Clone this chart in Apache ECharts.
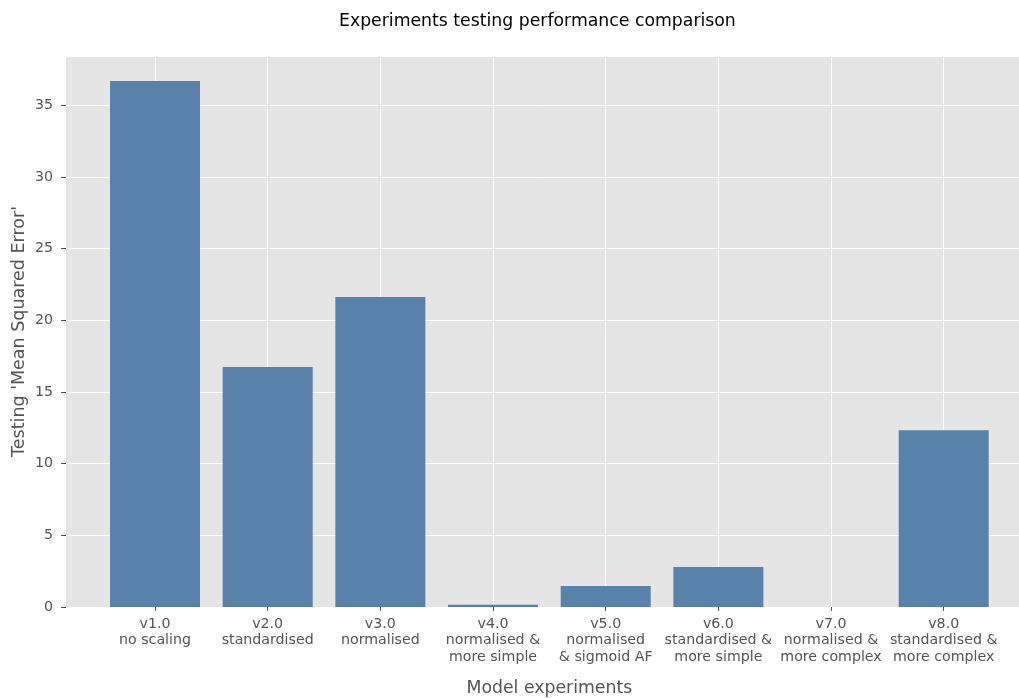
<!DOCTYPE html>
<html>
<head>
<meta charset="utf-8">
<title>Experiments testing performance comparison</title>
<script src="https://cdn.jsdelivr.net/npm/echarts@6/dist/echarts.min.js"></script>
<style>
  html, body { margin: 0; padding: 0; background: #fff; }
  #chart { width: 1019px; height: 698px; }
</style>
</head>
<body>
<div id="chart"></div>
<script>
// data
const experiments = [
  "v1.0\nno scaling",
  "v2.0\nstandardised",
  "v3.0\nnormalised",
  "v4.0\nnormalised &\nmore simple",
  "v5.0\nnormalised\n& sigmoid AF",
  "v6.0\nstandardised &\nmore simple",
  "v7.0\nnormalised &\nmore complex",
  "v8.0\nstandardised &\nmore complex"
];
const testMse = [36.7, 16.75, 21.62, 0.16, 1.46, 2.79, 0.005, 12.33];
const yTicks = { min: 0, max: 38.44, step: 5 };

const font = "DejaVu Sans";
const grey = "#555555";

const chart = echarts.init(document.getElementById("chart"));
chart.setOption({
  animation: false,
  textStyle: { fontFamily: font },
  title: {
    text: "Experiments testing performance comparison",
    left: 334,
    top: 8,
    textStyle: { fontFamily: font, fontSize: 17.3, fontWeight: "normal", color: "#000" }
  },
  grid: [
    // grey panel, spans the whole (cropped) axes area
    { left: 66, right: 0, top: 56, bottom: 91, show: true, backgroundColor: "#e5e5e5", borderWidth: 0, outerBoundsMode: "none" },
    // bars: first / last category sit on the edges of this grid
    { left: 155, right: 75.3, top: 56, bottom: 91, outerBoundsMode: "none" }
  ],
  xAxis: [
    { gridIndex: 0, type: "value", min: 0, max: 1, show: false },
    {
      gridIndex: 1,
      type: "category",
      data: experiments,
      boundaryGap: false,
      axisLine: { show: false },
      axisTick: { show: true, length: 4, lineStyle: { color: grey } },
      axisLabel: { color: grey, fontSize: 14.2, lineHeight: 16.5, margin: 9, interval: 0 },
      splitLine: { show: true, lineStyle: { color: "#fff", width: 1 } },
      name: "Model experiments",
      nameLocation: "middle",
      nameGap: 73,
      nameMoveOverlap: false,
      nameTextStyle: { color: grey, fontSize: 17.3 }
    }
  ],
  yAxis: [
    {
      gridIndex: 0,
      type: "value",
      min: yTicks.min,
      max: yTicks.max,
      interval: yTicks.step,
      axisLine: { show: false },
      axisTick: { show: true, length: 5, lineStyle: { color: grey } },
      axisLabel: { color: grey, fontSize: 14.2, margin: 13, showMaxLabel: false },
      splitLine: { show: true, lineStyle: { color: "#fff", width: 1 } },
      name: "Testing 'Mean Squared Error'",
      nameLocation: "middle",
      nameGap: 38,
      nameMoveOverlap: false,
      nameTextStyle: { color: grey, fontSize: 17.5 }
    },
    { gridIndex: 1, type: "value", min: yTicks.min, max: yTicks.max, show: false }
  ],
  series: [
    {
      type: "bar",
      xAxisIndex: 1,
      yAxisIndex: 1,
      data: testMse,
      barWidth: 90,
      clip: false,
      itemStyle: { color: "#5882a9" }
    }
  ]
});
</script>
</body>
</html>
